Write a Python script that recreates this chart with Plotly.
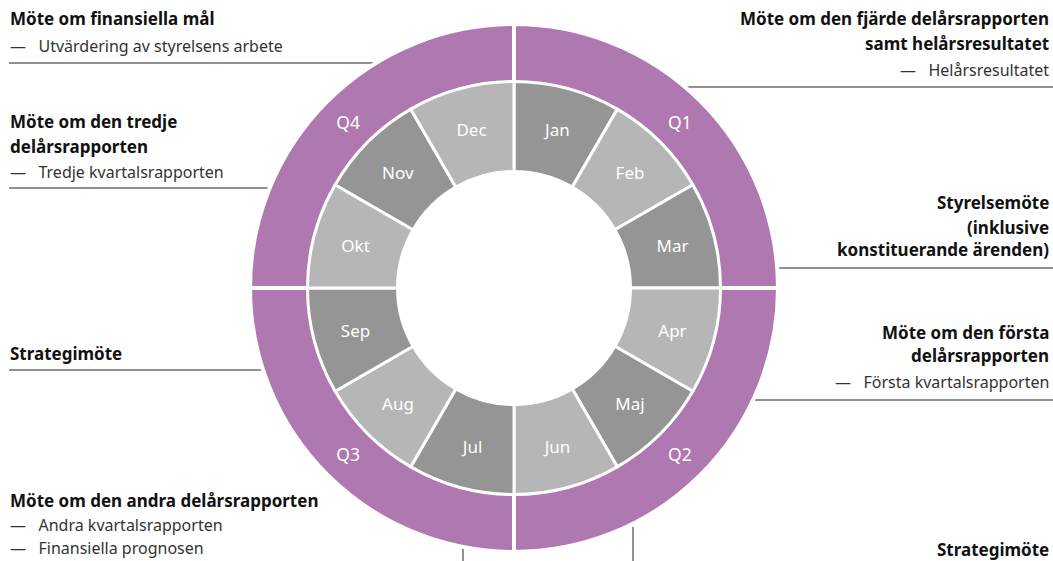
import plotly.graph_objects as go

W, H = 1053, 561

quarters = ["Q1", "Q2", "Q3", "Q4"]
quarter_values = [3, 3, 3, 3]
months = ["Jan", "Feb", "Mar", "Apr", "Maj", "Jun", "Jul", "Aug", "Sep", "Okt", "Nov", "Dec"]
month_values = [1] * 12
month_shades = ["dark", "light"] * 6

PURPLE = "#b078b0"
DARK = "#959595"
LIGHT = "#b6b6b6"
shade_color = {"dark": DARK, "light": LIGHT}

FONT = "Noto Sans"
DASH = "—\u00a0\u00a0\u00a0"

cx, cy = 514, 288  # pixel centre of the wheel


def dom(r):
    return dict(x=[(cx - r) / W, (cx + r) / W],
                y=[(H - cy - r) / H, (H - cy + r) / H])


fig = go.Figure()
fig.add_trace(go.Pie(
    labels=quarters, values=quarter_values, sort=False, direction="clockwise",
    rotation=0, hole=205 / 264, domain=dom(264),
    marker=dict(colors=[PURPLE] * 4, line=dict(color="white", width=4)),
    textinfo="label", textposition="inside", insidetextorientation="horizontal",
    textfont=dict(color="white", size=17.5, family=FONT),
    hoverinfo="label", showlegend=False,
))
fig.add_trace(go.Pie(
    labels=months, values=month_values, sort=False, direction="clockwise",
    rotation=0, hole=116.5 / 206.5, domain=dom(206.5),
    marker=dict(colors=[shade_color[s] for s in month_shades],
                line=dict(color="white", width=3)),
    textinfo="label", textposition="inside", insidetextorientation="horizontal",
    textfont=dict(color="white", size=17, family=FONT),
    hoverinfo="label", showlegend=False,
))

# text blocks: (x px, y px, text, bold)
left_texts = [
    (8, 19, "Möte om finansiella mål", True),
    (8, 46, DASH + "Utvärdering av styrelsens arbete", False),
    (8, 121, "Möte om den tredje", True),
    (8, 146, "delårsrapporten", True),
    (8, 172, DASH + "Tredje kvartalsrapporten", False),
    (8, 353, "Strategimöte", True),
    (8, 500, "Möte om den andra delårsrapporten", True),
    (8, 525, DASH + "Andra kvartalsrapporten", False),
    (8, 548, DASH + "Finansiella prognosen", False),
]
right_texts = [
    (1051, 19, "Möte om den fjärde delårsrapporten", True),
    (1051, 43, "samt helårsresultatet", True),
    (1051, 70, DASH + "Helårsresultatet", False),
    (1051, 203, "Styrelsemöte", True),
    (1051, 227, "(inklusive", True),
    (1051, 250, "konstituerande ärenden)", True),
    (1051, 332, "Möte om den första", True),
    (1051, 356, "delårsrapporten", True),
    (1051, 382, DASH + "Första kvartalsrapporten", False),
    (1051, 549, "Strategimöte", True),
]

annotations = []
for items, anchor in ((left_texts, "left"), (right_texts, "right")):
    for x, y, t, bold in items:
        annotations.append(dict(
            x=x / W, y=1 - y / H, xref="paper", yref="paper",
            xanchor=anchor, yanchor="middle", showarrow=False,
            text=f"<b>{t}</b>" if bold else t,
            font=dict(family=FONT, size=17 if bold else 16,
                      color="#111111" if bold else "#333333"),
        ))

# connector lines (pixels)
lines = [
    (9, 63, 382, 63),
    (9, 188, 272, 188),
    (9, 370, 265, 370),
    (680, 87, 1053, 87),
    (775, 268, 1053, 268),
    (752, 400, 1053, 400),
    (463, 545, 463, 561),
    (633, 527, 633, 561),
]
shapes = [dict(type="line", xref="paper", yref="paper",
               x0=a / W, y0=1 - b / H, x1=c / W, y1=1 - d / H,
               line=dict(color="#222222", width=1), layer="below")
          for a, b, c, d in lines]

fig.update_layout(
    width=W, height=H, margin=dict(l=0, r=0, t=0, b=0),
    paper_bgcolor="white", plot_bgcolor="white",
    annotations=annotations, shapes=shapes,
    font=dict(family=FONT),
)

fig.write_html("out.html",
               config={"displayModeBar": False},
               post_script="document.body.style.margin='0';"
                           "document.body.style.overflow='hidden';")
